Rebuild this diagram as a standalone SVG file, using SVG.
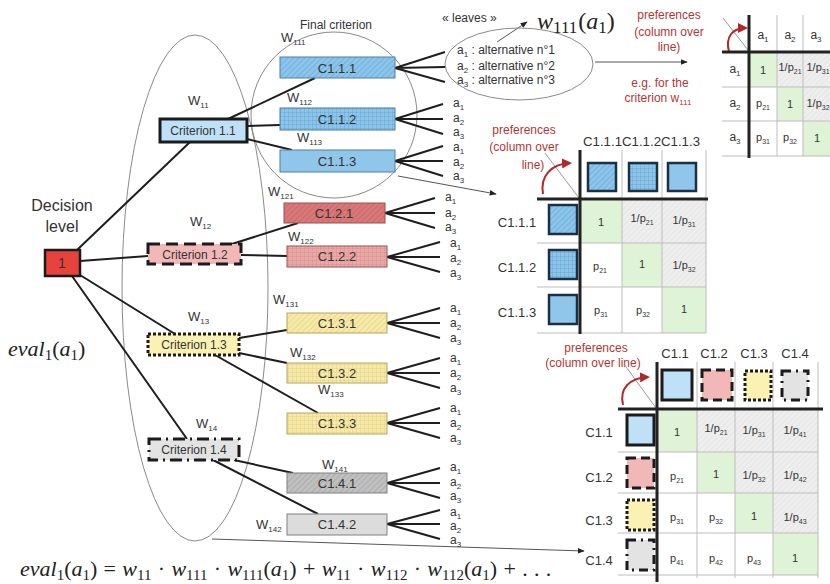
<svg xmlns="http://www.w3.org/2000/svg" width="830" height="584" viewBox="0 0 830 584">
<style>
.t{font-family:"Liberation Sans",Arial,sans-serif;fill:#333}
.m{font-family:"Liberation Serif","Times New Roman",serif;fill:#222}
.i{font-style:italic}
.red{fill:#b53535}
.ln{stroke:#1e1e1e;stroke-width:2;fill:none}
.thin{stroke:#555;stroke-width:1;fill:none}
.env{stroke:#8a8a8a;stroke-width:1;fill:none}
.sep{stroke:#bdbdbd;stroke-width:1}
.thk{stroke:#222;stroke-width:3}
.c11{fill:#bfe1f7;stroke:#1b1b1b;stroke-width:3}
.c12{fill:#f2b8b8;stroke:#1b1b1b;stroke-width:3;stroke-dasharray:12 6}
.c13{fill:#fbf1b3;stroke:#1b1b1b;stroke-width:3;stroke-dasharray:3 2}
.c14{fill:#e3e3e3;stroke:#1b1b1b;stroke-width:3;stroke-dasharray:12 5 2 5}
.sb{stroke:#4f7fa6;stroke-width:1}
.sr{stroke:#9a5050;stroke-width:1}
.sy{stroke:#b3a460;stroke-width:1}
.sg{stroke:#808080;stroke-width:1}
.sq{stroke:#1b2f45;stroke-width:2.5}
.green{fill:#dff4d6}
.gray{fill:url(#hG)}
.arc{stroke:#b02828;stroke-width:2;fill:none}
</style>
<defs>
<marker id="ah" viewBox="0 0 10 10" refX="9" refY="5" markerWidth="7" markerHeight="7" orient="auto"><path d="M0,1 L10,5 L0,9 z" fill="#222"/></marker>
<marker id="ahr" viewBox="0 0 10 10" refX="8" refY="5" markerWidth="5" markerHeight="5" orient="auto"><path d="M0,0 L10,5 L0,10 z" fill="#b02828"/></marker>
<pattern id="hB" width="4" height="4" patternUnits="userSpaceOnUse" patternTransform="rotate(45)"><rect width="4" height="4" fill="#8cc5ea"/><line x1="0" y1="0" x2="0" y2="4" stroke="#6aa9d6" stroke-width="1.4"/></pattern>
<pattern id="gB" width="4" height="4" patternUnits="userSpaceOnUse"><rect width="4" height="4" fill="#8cc5ea"/><path d="M0,0H4M0,0V4" stroke="#5f9fd0" stroke-width="0.8"/></pattern>
<pattern id="hR" width="4" height="4" patternUnits="userSpaceOnUse" patternTransform="rotate(45)"><rect width="4" height="4" fill="#d87878"/><line x1="0" y1="0" x2="0" y2="4" stroke="#c46262" stroke-width="1.4"/></pattern>
<pattern id="gR" width="4" height="4" patternUnits="userSpaceOnUse"><rect width="4" height="4" fill="#eaa9a9"/><path d="M0,0H4M0,0V4" stroke="#d48888" stroke-width="0.8"/></pattern>
<pattern id="hY" width="4" height="4" patternUnits="userSpaceOnUse" patternTransform="rotate(45)"><rect width="4" height="4" fill="#f7eaa8"/><line x1="0" y1="0" x2="0" y2="4" stroke="#e3d184" stroke-width="1.4"/></pattern>
<pattern id="gY" width="4" height="4" patternUnits="userSpaceOnUse"><rect width="4" height="4" fill="#f7eaa8"/><path d="M0,0H4M0,0V4" stroke="#e0cd7c" stroke-width="0.8"/></pattern>
<pattern id="hK" width="4" height="4" patternUnits="userSpaceOnUse" patternTransform="rotate(45)"><rect width="4" height="4" fill="#c0c0c0"/><line x1="0" y1="0" x2="0" y2="4" stroke="#a4a4a4" stroke-width="1.4"/></pattern>
<pattern id="hG" width="4" height="4" patternUnits="userSpaceOnUse" patternTransform="rotate(45)"><rect width="4" height="4" fill="#eeeeee"/><line x1="0" y1="0" x2="0" y2="4" stroke="#e0e0e0" stroke-width="1.2"/></pattern>
</defs>
<rect width="830" height="584" fill="#ffffff"/>

<g id="envelopes">
<ellipse class="env" cx="195" cy="288" rx="73" ry="253"/>
<circle class="env" cx="334" cy="115" r="83"/>
</g>

<g id="connectors">
<path class="ln" d="M77,250 L190,142 M80,261 L148,256 M80,275 L175,334 M72,276 L187,439"/>
<path class="ln" d="M228,119 L315,78 M247,126 L280,125 M247,139 L292,150"/>
<path class="ln" d="M232,244 L298,223 M241,255 L287,256"/>
<path class="ln" d="M239,338 L287,330 M239,353 L287,363 M215,355 L318,413"/>
<path class="ln" d="M234,460 L293,473 M213,460 L318,514"/>
<path class="ln" d="M395,68 L445,52 M395,68 L445,67 M395,68 L445,82"/>
<path class="ln" d="M395,119 L443,104 M395,119 L443,119 M395,119 L443,134"/>
<path class="ln" d="M395,161 L443,146 M395,161 L443,161 M395,161 L443,176"/>
<path class="ln" d="M385,213 L435,198 M385,213 L435,213 M385,213 L435,228"/>
<path class="ln" d="M387,257 L440,242 M387,257 L440,257 M387,257 L440,272"/>
<path class="ln" d="M387,323 L440,308 M387,323 L440,323 M387,323 L440,338"/>
<path class="ln" d="M387,373 L440,358 M387,373 L440,373 M387,373 L440,388"/>
<path class="ln" d="M387,423 L440,408 M387,423 L440,423 M387,423 L440,438"/>
<path class="ln" d="M387,483 L440,468 M387,483 L440,483 M387,483 L440,498"/>
<path class="ln" d="M387,524 L440,510 M387,524 L440,524 M387,524 L440,539"/>
<path class="thin" d="M398,176 L496,194" marker-end="url(#ah)"/>
<path class="thin" d="M595,62 L687,62" marker-end="url(#ah)"/>
<path class="thin" d="M497,42 L527,22" marker-end="url(#ah)"/>
<path class="thin" d="M212,539 L584,551" marker-end="url(#ah)"/>
</g>

<g id="weights" class="t" font-size="13" fill="#444">
<text x="188" y="105">W<tspan font-size="8" dy="3">11</tspan></text>
<text x="190" y="226">W<tspan font-size="8" dy="3">12</tspan></text>
<text x="188" y="321">W<tspan font-size="8" dy="3">13</tspan></text>
<text x="196" y="428">W<tspan font-size="8" dy="3">14</tspan></text>
<text x="281" y="42">W<tspan font-size="8" dy="3">111</tspan></text>
<text x="287" y="102">W<tspan font-size="8" dy="3">112</tspan></text>
<text x="297" y="142">W<tspan font-size="8" dy="3">113</tspan></text>
<text x="268" y="196">W<tspan font-size="8" dy="3">121</tspan></text>
<text x="288" y="241">W<tspan font-size="8" dy="3">122</tspan></text>
<text x="273" y="304">W<tspan font-size="8" dy="3">131</tspan></text>
<text x="290" y="357">W<tspan font-size="8" dy="3">132</tspan></text>
<text x="318" y="394">W<tspan font-size="8" dy="3">133</tspan></text>
<text x="322" y="469">W<tspan font-size="8" dy="3">141</tspan></text>
<text x="256" y="529">W<tspan font-size="8" dy="3">142</tspan></text>
</g>

<g id="decision">
<text class="t" x="62" y="211" font-size="16" text-anchor="middle">Decision</text>
<text class="t" x="62" y="232" font-size="16" text-anchor="middle">level</text>
<rect x="45" y="250" width="35" height="26" fill="#e8423d" stroke="#1b1b1b" stroke-width="2.5"/>
<text class="t" x="62" y="268" font-size="14" text-anchor="middle" fill="#1b1b1b">1</text>
</g>
<text id="eval-left" class="m" x="8" y="356" font-size="22"><tspan class="i">eval</tspan><tspan font-size="15" dy="4">1</tspan><tspan dy="-4">(</tspan><tspan class="i">a</tspan><tspan font-size="15" dy="4">1</tspan><tspan dy="-4">)</tspan></text>

<g id="crit11"><rect class="c11" x="160" y="119" width="87" height="23"/><text class="t" x="203" y="135" font-size="12" text-anchor="middle">Criterion 1.1</text></g>
<g id="crit12"><rect class="c12" x="148" y="244" width="93" height="20"/><text class="t" x="195" y="259" font-size="12" text-anchor="middle">Criterion 1.2</text></g>
<g id="crit13"><rect class="c13" x="148" y="334" width="91" height="21"/><text class="t" x="194" y="349" font-size="12" text-anchor="middle">Criterion 1.3</text></g>
<g id="crit14"><rect class="c14" x="149" y="439" width="90" height="21"/><text class="t" x="194" y="454" font-size="12" text-anchor="middle">Criterion 1.4</text></g>

<text id="final-criterion" class="t" x="336" y="29" font-size="12" text-anchor="middle">Final criterion</text>

<g id="c111"><rect class="sb" x="280" y="57" width="115" height="21" fill="url(#hB)"/><text class="t" x="337" y="73" font-size="13" text-anchor="middle">C1.1.1</text></g>
<g id="c112"><rect class="sb" x="280" y="108" width="115" height="22" fill="url(#gB)"/><text class="t" x="337" y="124" font-size="13" text-anchor="middle">C1.1.2</text></g>
<g id="c113"><rect class="sb" x="280" y="150" width="115" height="22" fill="#8fc6ea"/><text class="t" x="337" y="166" font-size="13" text-anchor="middle">C1.1.3</text></g>
<g id="c121"><rect class="sr" x="284" y="203" width="101" height="20" fill="url(#hR)"/><text class="t" x="334" y="218" font-size="13" text-anchor="middle">C1.2.1</text></g>
<g id="c122"><rect class="sr" x="287" y="246" width="100" height="21" fill="url(#gR)"/><text class="t" x="337" y="261" font-size="13" text-anchor="middle">C1.2.2</text></g>
<g id="c131"><rect class="sy" x="287" y="313" width="100" height="20" fill="url(#hY)"/><text class="t" x="337" y="328" font-size="13" text-anchor="middle">C1.3.1</text></g>
<g id="c132"><rect class="sy" x="287" y="363" width="100" height="20" fill="url(#gY)"/><text class="t" x="337" y="378" font-size="13" text-anchor="middle">C1.3.2</text></g>
<g id="c133"><rect class="sy" x="287" y="413" width="100" height="21" fill="url(#gY)"/><text class="t" x="337" y="428" font-size="13" text-anchor="middle">C1.3.3</text></g>
<g id="c141"><rect class="sg" x="287" y="473" width="100" height="20" fill="url(#hK)"/><text class="t" x="337" y="488" font-size="13" text-anchor="middle">C1.4.1</text></g>
<g id="c142"><rect class="sg" x="287" y="514" width="100" height="21" fill="#dcdcdc"/><text class="t" x="337" y="529" font-size="13" text-anchor="middle">C1.4.2</text></g>

<g id="alternatives" class="t" font-size="12" fill="#444">
<text x="453" y="107">a<tspan font-size="8" dy="3">1</tspan></text><text x="453" y="122">a<tspan font-size="8" dy="3">2</tspan></text><text x="453" y="136">a<tspan font-size="8" dy="3">3</tspan></text>
<text x="453" y="151">a<tspan font-size="8" dy="3">1</tspan></text><text x="453" y="166">a<tspan font-size="8" dy="3">2</tspan></text><text x="453" y="180">a<tspan font-size="8" dy="3">3</tspan></text>
<text x="445" y="201">a<tspan font-size="8" dy="3">1</tspan></text><text x="445" y="217">a<tspan font-size="8" dy="3">2</tspan></text><text x="445" y="231">a<tspan font-size="8" dy="3">3</tspan></text>
<text x="450" y="247">a<tspan font-size="8" dy="3">1</tspan></text><text x="450" y="262">a<tspan font-size="8" dy="3">2</tspan></text><text x="450" y="277">a<tspan font-size="8" dy="3">3</tspan></text>
<text x="450" y="312">a<tspan font-size="8" dy="3">1</tspan></text><text x="450" y="327">a<tspan font-size="8" dy="3">2</tspan></text><text x="450" y="342">a<tspan font-size="8" dy="3">3</tspan></text>
<text x="450" y="362">a<tspan font-size="8" dy="3">1</tspan></text><text x="450" y="377">a<tspan font-size="8" dy="3">2</tspan></text><text x="450" y="392">a<tspan font-size="8" dy="3">3</tspan></text>
<text x="450" y="412">a<tspan font-size="8" dy="3">1</tspan></text><text x="450" y="427">a<tspan font-size="8" dy="3">2</tspan></text><text x="450" y="442">a<tspan font-size="8" dy="3">3</tspan></text>
<text x="450" y="471">a<tspan font-size="8" dy="3">1</tspan></text><text x="450" y="486">a<tspan font-size="8" dy="3">2</tspan></text><text x="450" y="500">a<tspan font-size="8" dy="3">3</tspan></text>
<text x="450" y="516">a<tspan font-size="8" dy="3">1</tspan></text><text x="450" y="530">a<tspan font-size="8" dy="3">2</tspan></text><text x="450" y="544">a<tspan font-size="8" dy="3">3</tspan></text>
</g>

<g id="leaves">
<ellipse class="env" cx="519" cy="64" rx="74" ry="36"/>
<text class="t" x="442" y="22" font-size="12">« leaves »</text>
<text class="t" x="457" y="54" font-size="12">a<tspan font-size="8" dy="3">1</tspan><tspan dy="-3"> : alternative n°1</tspan></text>
<text class="t" x="457" y="70" font-size="12">a<tspan font-size="8" dy="3">2</tspan><tspan dy="-3"> : alternative  n°2</tspan></text>
<text class="t" x="457" y="84" font-size="12">a<tspan font-size="8" dy="3">3</tspan><tspan dy="-3"> : alternative n°3</tspan></text>
<text class="m" x="537" y="29" font-size="24"><tspan class="i">w</tspan><tspan font-size="17" dy="4">111</tspan><tspan dy="-4" dx="1">(</tspan><tspan class="i">a</tspan><tspan font-size="17" dy="4">1</tspan><tspan dy="-4">)</tspan></text>
</g>

<g id="note-top" class="t red" font-size="12" text-anchor="middle">
<text x="669" y="19">preferences</text>
<text x="669" y="36">(column over</text>
<text x="669" y="51">line)</text>
<text x="660" y="87">e.g. for the</text>
<text x="658" y="102">criterion w<tspan font-size="8" dy="3">111</tspan></text>
</g>

<g id="matrix-alternatives">
<rect class="green" x="749" y="52" width="28" height="35"/>
<rect class="green" x="777" y="87" width="26" height="34"/>
<rect class="green" x="803" y="121" width="27" height="35"/>
<rect class="gray" x="777" y="52" width="26" height="35"/>
<rect class="gray" x="803" y="52" width="27" height="35"/>
<rect class="gray" x="803" y="87" width="27" height="34"/>
<path class="sep" d="M777,15 V156 M803,15 V156 M722,87 H830 M722,121 H830 M722,156 H830"/>
<path stroke="#999" stroke-width="1" d="M723,18 L748,50"/>
<path class="arc" d="M729,52 C725,36 733,28 746,28" marker-end="url(#ahr)"/>
<path class="thk" d="M749,15 V158 M722,52 H830"/>
<g class="t" font-size="12" text-anchor="middle">
<text x="763" y="39">a<tspan font-size="8" dy="3">1</tspan></text>
<text x="790" y="39">a<tspan font-size="8" dy="3">2</tspan></text>
<text x="816" y="39">a<tspan font-size="8" dy="3">3</tspan></text>
<text x="735" y="73">a<tspan font-size="8" dy="3">1</tspan></text>
<text x="735" y="107">a<tspan font-size="8" dy="3">2</tspan></text>
<text x="735" y="141">a<tspan font-size="8" dy="3">3</tspan></text>
</g>
<g class="t" font-size="11" text-anchor="middle">
<text x="763" y="74">1</text>
<text x="790" y="71">1/p<tspan font-size="7" dy="3">21</tspan></text>
<text x="818" y="71">1/p<tspan font-size="7" dy="3">31</tspan></text>
<text x="763" y="107">p<tspan font-size="7" dy="3">21</tspan></text>
<text x="790" y="108">1</text>
<text x="818" y="107">1/p<tspan font-size="7" dy="3">32</tspan></text>
<text x="763" y="141">p<tspan font-size="7" dy="3">31</tspan></text>
<text x="790" y="141">p<tspan font-size="7" dy="3">32</tspan></text>
<text x="817" y="142">1</text>
</g>
</g>

<g id="matrix-c11">
<g class="t red" font-size="12" text-anchor="middle">
<text x="524" y="134">preferences</text>
<text x="524" y="151">(column over</text>
<text x="533" y="169">line)</text>
</g>
<text class="t" x="583" y="146" font-size="13" textLength="117" lengthAdjust="spacingAndGlyphs">C1.1.1C1.1.2C1.1.3</text>
<rect class="green" x="580" y="199" width="42" height="44"/>
<rect class="green" x="622" y="243" width="40" height="44"/>
<rect class="green" x="662" y="287" width="44" height="46"/>
<rect class="gray" x="622" y="199" width="40" height="44"/>
<rect class="gray" x="662" y="199" width="44" height="44"/>
<rect class="gray" x="662" y="243" width="44" height="44"/>
<path class="sep" d="M622,150 V333 M662,150 V333 M706,150 V333 M537,243 H706 M537,287 H706 M537,333 H706"/>
<path stroke="#999" stroke-width="1" d="M545,153 L579,198"/>
<path class="arc" d="M543,194 C540,176 551,164 570,163" marker-end="url(#ahr)"/>
<path class="thk" d="M580,150 V334 M537,199 H708"/>
<rect class="sq" x="588" y="163" width="28" height="28" fill="url(#hB)"/>
<rect class="sq" x="629" y="163" width="28" height="28" fill="url(#gB)"/>
<rect class="sq" x="668" y="163" width="28" height="28" fill="#8fc6ea"/>
<rect class="sq" x="549" y="205" width="28" height="29" fill="url(#hB)"/>
<rect class="sq" x="549" y="250" width="28" height="29" fill="url(#gB)"/>
<rect class="sq" x="549" y="295" width="28" height="29" fill="#8fc6ea"/>
<g class="t" font-size="13" text-anchor="middle">
<text x="517" y="227">C1.1.1</text>
<text x="517" y="272">C1.1.2</text>
<text x="517" y="317">C1.1.3</text>
</g>
<g class="t" font-size="11" text-anchor="middle">
<text x="601" y="226">1</text>
<text x="642" y="222">1/p<tspan font-size="7" dy="3">21</tspan></text>
<text x="684" y="224">1/p<tspan font-size="7" dy="3">31</tspan></text>
<text x="600" y="270">p<tspan font-size="7" dy="3">21</tspan></text>
<text x="642" y="268">1</text>
<text x="684" y="269">1/p<tspan font-size="7" dy="3">32</tspan></text>
<text x="601" y="314">p<tspan font-size="7" dy="3">31</tspan></text>
<text x="643" y="314">p<tspan font-size="7" dy="3">32</tspan></text>
<text x="684" y="313">1</text>
</g>
</g>

<g id="matrix-c1">
<g class="t red" font-size="12" text-anchor="middle">
<text x="596" y="352">preferences</text>
<text x="593" y="367">(column over line)</text>
</g>
<g class="t" font-size="13" text-anchor="middle">
<text x="675" y="358">C1.1</text>
<text x="714" y="358">C1.2</text>
<text x="754" y="358">C1.3</text>
<text x="795" y="358">C1.4</text>
</g>
<rect class="green" x="657" y="409" width="40" height="43"/>
<rect class="green" x="697" y="452" width="38" height="41"/>
<rect class="green" x="735" y="493" width="38" height="40"/>
<rect class="green" x="773" y="533" width="45" height="42"/>
<rect class="gray" x="697" y="409" width="38" height="43"/>
<rect class="gray" x="735" y="409" width="38" height="43"/>
<rect class="gray" x="773" y="409" width="45" height="43"/>
<rect class="gray" x="735" y="452" width="38" height="41"/>
<rect class="gray" x="773" y="452" width="45" height="41"/>
<rect class="gray" x="773" y="493" width="45" height="40"/>
<path class="sep" d="M697,362 V578 M735,362 V578 M773,362 V578 M818,362 V578 M618,452 H818 M618,493 H818 M618,533 H818 M618,575 H818"/>
<path stroke="#999" stroke-width="1" d="M624,364 L656,408"/>
<path class="arc" d="M623,405 C619,388 630,378 648,377" marker-end="url(#ahr)"/>
<path class="thk" d="M657,362 V582 M618,409 H823"/>
<rect class="c11" x="662" y="370" width="30" height="30" stroke-width="2.5"/>
<rect class="c12" x="702" y="370" width="30" height="30" stroke-width="2.5" style="stroke-dasharray:9 5"/>
<rect class="c13" x="745" y="371" width="26" height="29" stroke-width="2"/>
<rect class="c14" x="782" y="371" width="26" height="29" stroke-width="2.5" style="stroke-dasharray:9 5 2 5"/>
<rect class="c11" x="627" y="415" width="27" height="30" stroke-width="2.5"/>
<rect class="c12" x="627" y="458" width="27" height="30" stroke-width="2.5" style="stroke-dasharray:9 5"/>
<rect class="c13" x="627" y="500" width="27" height="30" stroke-width="2"/>
<rect class="c14" x="627" y="540" width="27" height="30" stroke-width="2.5" style="stroke-dasharray:9 5 2 5"/>
<g class="t" font-size="13" text-anchor="middle">
<text x="599" y="437">C1.1</text>
<text x="599" y="482">C1.2</text>
<text x="599" y="525">C1.3</text>
<text x="599" y="565">C1.4</text>
</g>
<g class="t" font-size="11" text-anchor="middle">
<text x="677" y="436">1</text>
<text x="716" y="432">1/p<tspan font-size="7" dy="3">21</tspan></text>
<text x="754" y="434">1/p<tspan font-size="7" dy="3">31</tspan></text>
<text x="795" y="434">1/p<tspan font-size="7" dy="3">41</tspan></text>
<text x="677" y="480">p<tspan font-size="7" dy="3">21</tspan></text>
<text x="716" y="478">1</text>
<text x="754" y="479">1/p<tspan font-size="7" dy="3">32</tspan></text>
<text x="795" y="479">1/p<tspan font-size="7" dy="3">42</tspan></text>
<text x="677" y="521">p<tspan font-size="7" dy="3">31</tspan></text>
<text x="716" y="521">p<tspan font-size="7" dy="3">32</tspan></text>
<text x="754" y="520">1</text>
<text x="795" y="521">1/p<tspan font-size="7" dy="3">43</tspan></text>
<text x="677" y="562">p<tspan font-size="7" dy="3">41</tspan></text>
<text x="716" y="562">p<tspan font-size="7" dy="3">42</tspan></text>
<text x="754" y="562">p<tspan font-size="7" dy="3">43</tspan></text>
<text x="795" y="562">1</text>
</g>
</g>

<text id="equation" class="m" x="20" y="576" font-size="22" word-spacing="0.8" xml:space="preserve"><tspan class="i">eval</tspan><tspan font-size="15" dy="4">1</tspan><tspan dy="-4">(</tspan><tspan class="i">a</tspan><tspan font-size="15" dy="4">1</tspan><tspan dy="-4">) = </tspan><tspan class="i">w</tspan><tspan font-size="15" dy="4">11</tspan><tspan dy="-4"> · </tspan><tspan class="i">w</tspan><tspan font-size="15" dy="4">111</tspan><tspan dy="-4"> · </tspan><tspan class="i">w</tspan><tspan font-size="15" dy="4">111</tspan><tspan dy="-4">(</tspan><tspan class="i">a</tspan><tspan font-size="15" dy="4">1</tspan><tspan dy="-4">) + </tspan><tspan class="i">w</tspan><tspan font-size="15" dy="4">11</tspan><tspan dy="-4"> · </tspan><tspan class="i">w</tspan><tspan font-size="15" dy="4">112</tspan><tspan dy="-4"> · </tspan><tspan class="i">w</tspan><tspan font-size="15" dy="4">112</tspan><tspan dy="-4">(</tspan><tspan class="i">a</tspan><tspan font-size="15" dy="4">1</tspan><tspan dy="-4">) + . . .</tspan></text>
</svg>
